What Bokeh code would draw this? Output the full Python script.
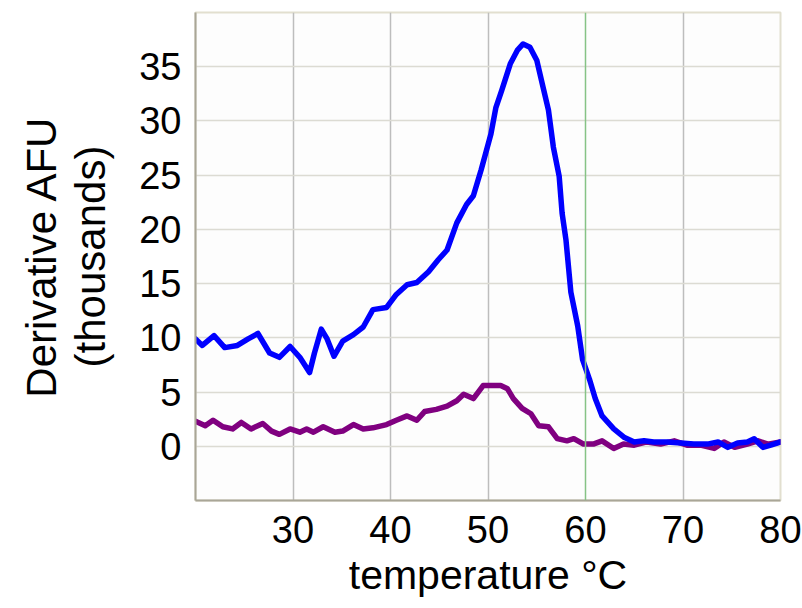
from bokeh.plotting import figure
from bokeh.models import FixedTicker, Span
from bokeh.embed import file_html
from bokeh.resources import INLINE

temp_blue = [20.0, 20.7, 21.9, 23.0, 24.3, 25.4, 26.4, 27.6, 28.6, 29.7,
             30.7, 31.7, 32.2, 32.9, 33.5, 34.2, 35.1, 36.2, 37.2, 38.2,
             39.6, 40.6, 41.7, 42.7, 43.9, 44.9, 45.8, 46.8, 47.8, 48.5,
             49.3, 50.3, 50.8, 51.4, 52.3, 53.0, 53.6, 54.3, 55.0, 55.7,
             56.2, 56.7, 57.3, 57.6, 58.0, 58.5, 59.2, 59.7, 60.4, 61.0,
             61.7, 62.9, 64.0, 65.0, 66.0, 67.0, 68.4, 69.8, 71.1, 72.5,
             73.6, 74.6, 75.6, 76.6, 77.3, 78.2, 79.0, 80.0]
afu_blue = [9.9, 9.3, 10.2, 9.1, 9.3, 9.9, 10.4, 8.6, 8.2, 9.2,
            8.2, 6.8, 8.6, 10.8, 9.9, 8.3, 9.7, 10.3, 11.0, 12.6,
            12.8, 14.0, 14.9, 15.1, 16.1, 17.2, 18.1, 20.6, 22.3, 23.1,
            25.5, 28.8, 31.2, 32.8, 35.3, 36.5, 37.1, 36.8, 35.6, 32.9,
            31.0, 27.6, 24.9, 21.5, 19.0, 14.2, 11.1, 8.0, 6.2, 4.4,
            2.8, 1.6, 0.8, 0.4, 0.5, 0.4, 0.4, 0.3, 0.2, 0.2,
            0.4, -0.1, 0.3, 0.4, 0.7, -0.1, 0.1, 0.4]

temp_purple = [20.0, 21.0, 21.8, 22.8, 23.8, 24.7, 25.7, 26.9, 27.8, 28.6,
               29.7, 30.7, 31.4, 32.1, 33.1, 34.3, 35.1, 36.2, 37.2, 38.2,
               39.6, 40.6, 41.7, 42.7, 43.5, 44.7, 45.8, 46.8, 47.5, 48.5,
               49.5, 50.2, 51.3, 52.0, 52.6, 53.5, 54.4, 55.2, 56.2, 57.1,
               58.1, 58.8, 59.8, 60.8, 61.7, 62.9, 63.9, 65.0, 66.3, 67.7,
               69.1, 70.4, 71.8, 73.2, 74.2, 75.3, 76.6, 77.7, 78.7, 80.0]
afu_purple = [2.3, 1.9, 2.4, 1.8, 1.6, 2.2, 1.6, 2.1, 1.4, 1.1,
              1.6, 1.3, 1.6, 1.3, 1.8, 1.3, 1.4, 2.0, 1.6, 1.7,
              2.0, 2.4, 2.8, 2.4, 3.2, 3.4, 3.7, 4.2, 4.8, 4.4,
              5.6, 5.6, 5.6, 5.3, 4.4, 3.5, 3.0, 1.9, 1.8, 0.7,
              0.5, 0.7, 0.2, 0.2, 0.5, -0.2, 0.2, 0.1, 0.4, 0.2,
              0.5, 0.1, 0.1, -0.2, 0.4, -0.1, 0.2, 0.5, 0.2, 0.4]

x_ticks = [30, 40, 50, 60, 70, 80]
y_ticks = [0, 5, 10, 15, 20, 25, 30, 35]
x_grid = [30, 40, 50, 70, 80]
marker_temp = 60

x_title = "temperature °C"
y_title = "Derivative AFU\n(thousands)"

FONT = "Liberation Sans"

p = figure(width=802, height=608, x_range=(20, 80), y_range=(-5, 40),
           output_backend="svg", toolbar_location=None,
           min_border_left=195, min_border_right=22,
           min_border_top=12, min_border_bottom=108)

p.background_fill_color = "#fdfdfd"
p.border_fill_color = "white"
p.outline_line_color = "#e2dfcf"
p.outline_line_width = 2

p.xgrid.ticker = FixedTicker(ticks=x_grid)
p.xgrid.grid_line_color = "#bdbdbd"
p.xgrid.grid_line_width = 1.5
p.ygrid.ticker = FixedTicker(ticks=y_ticks)
p.ygrid.grid_line_color = "#dcdbd3"
p.ygrid.grid_line_width = 1.5

for ax, ticks in ((p.xaxis[0], x_ticks), (p.yaxis[0], y_ticks)):
    ax.ticker = FixedTicker(ticks=ticks)
    ax.major_tick_line_color = None
    ax.minor_tick_line_color = None
    ax.major_tick_out = 0
    ax.major_tick_in = 0
    ax.axis_line_color = "#a9a697"
    ax.axis_line_width = 2
    ax.major_label_text_font = FONT
    ax.major_label_text_font_size = "38px"
    ax.major_label_text_color = "black"
    ax.axis_label_text_font = FONT
    ax.axis_label_text_font_style = "normal"
    ax.axis_label_text_color = "black"

p.xaxis.major_label_standoff = 15
p.yaxis.major_label_standoff = 14

p.xaxis.axis_label = x_title
p.xaxis.axis_label_text_font_size = "41px"
p.xaxis.axis_label_standoff = 6

p.yaxis.axis_label = y_title
p.yaxis.axis_label_text_font_size = "42px"
p.yaxis.axis_label_standoff = 22
p.yaxis.axis_label_text_line_height = 1.05

p.add_layout(Span(location=marker_temp, dimension="height",
                  line_color="#86c386", line_width=1.5))

p.line(temp_purple, afu_purple, line_color="#800080", line_width=5.5,
       line_join="round", line_cap="round")
p.line(temp_blue, afu_blue, line_color="#0000ff", line_width=5.5,
       line_join="round", line_cap="round")

open("out.html", "w").write(file_html(p, INLINE))
